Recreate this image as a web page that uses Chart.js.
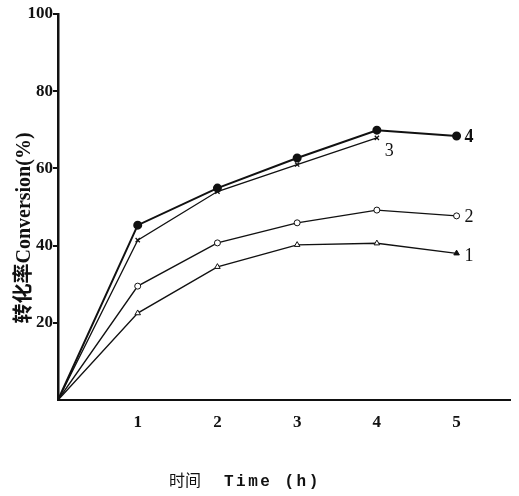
<!DOCTYPE html>
<html>
<head>
<meta charset="utf-8">
<script src="https://cdn.jsdelivr.net/npm/chart.js@4"></script>
<style>
  html, body { margin: 0; padding: 0; background: #fff; }
  #wrap { width: 519px; height: 496px; }
</style>
</head>
<body>
<div id="wrap"><canvas id="myChart"></canvas></div>
<script>
  // data
  const times = [0, 1, 2, 3, 4, 5];
  const curve1 = [0, 22.5, 34.5, 40.2, 40.6, 38];
  const curve2 = [0, 29.5, 40.7, 45.9, 49.2, 47.7];
  const curve3 = [0, 41.4, 54, 61, 67.9];
  const curve4 = [0, 45.3, 54.9, 62.7, 69.9, 68.4];
  const curveNames = ['1', '2', '3', '4'];
  const xTicks = [1, 2, 3, 4, 5];
  const yTicks = [20, 40, 60, 80, 100];

  const toPoints = arr => arr.map((v, i) => ({ x: times[i], y: v }));
  const noFirst = (n, r) => Array.from({ length: n }, (_, i) => i === 0 ? 0 : r);

  const data = {
    datasets: [
      {
        label: curveNames[0],
        data: toPoints(curve1),
        borderColor: '#111', borderWidth: 1.4,
        pointStyle: 'triangle',
        pointRadius: noFirst(curve1.length, 3.2),
        pointBackgroundColor: curve1.map((v, i) => i === curve1.length - 1 ? '#111' : '#fff'),
        pointBorderColor: '#111', pointBorderWidth: 1
      },
      {
        label: curveNames[1],
        data: toPoints(curve2),
        borderColor: '#111', borderWidth: 1.4,
        pointStyle: 'circle',
        pointRadius: noFirst(curve2.length, 3),
        pointBackgroundColor: '#fff',
        pointBorderColor: '#111', pointBorderWidth: 1
      },
      {
        label: curveNames[2],
        data: toPoints(curve3),
        borderColor: '#111', borderWidth: 1.3,
        pointStyle: 'crossRot',
        pointRadius: noFirst(curve3.length, 3),
        pointBorderColor: '#111', pointBorderWidth: 1.3
      },
      {
        label: curveNames[3],
        data: toPoints(curve4),
        borderColor: '#111', borderWidth: 2,
        pointStyle: 'circle',
        pointRadius: noFirst(curve4.length, 3.5),
        pointBackgroundColor: '#111',
        pointBorderColor: '#111'
      }
    ]
  };

  // curve numbers at the end of each line, and the two axis titles
  const annotate = {
    id: 'annotate',
    afterDraw(chart) {
      const ctx = chart.ctx;
      ctx.save();
      ctx.fillStyle = '#111';
      ctx.textBaseline = 'middle';
      ctx.textAlign = 'left';
      const offs = [[8, 3], [8, 1], [8, 13], [8, 1]];
      chart.data.datasets.forEach((ds, i) => {
        const pts = chart.getDatasetMeta(i).data;
        const p = pts[pts.length - 1];
        ctx.font = (i === 3 ? 'bold ' : '') + '18px "Liberation Serif"';
        ctx.fillText(ds.label, p.x + offs[i][0], p.y + offs[i][1]);
      });

      // y title
      ctx.save();
      ctx.translate(25, 228);
      ctx.rotate(-Math.PI / 2);
      ctx.textAlign = 'center';
      ctx.font = 'bold 20px "Liberation Serif", "Noto Sans CJK SC"';
      ctx.fillText('转化率Conversion(%)', 0, 0);
      ctx.restore();

      // x title
      ctx.textAlign = 'left';
      ctx.textBaseline = 'alphabetic';
      ctx.font = '16px "Noto Sans CJK SC"';
      ctx.fillText('时间', 169, 486);
      ctx.font = 'bold 16px "Liberation Mono"';
      ctx.letterSpacing = '2.5px';
      ctx.fillText('Time (h)', 224, 486);
      ctx.restore();
    }
  };

  const config = {
    type: 'line',
    data,
    plugins: [annotate],
    options: {
      responsive: true,
      maintainAspectRatio: false,
      animation: false,
      layout: { padding: { top: 14, right: 9, left: 0, bottom: 0 } },
      plugins: { legend: { display: false }, tooltip: { enabled: false } },
      scales: {
        x: {
          type: 'linear',
          min: 0, max: 5.67,
          afterBuildTicks: s => { s.ticks = xTicks.map(v => ({ value: v })); },
          afterFit: s => { s.height = 96; },
          border: { display: true, color: '#111', width: 2 },
          grid: { display: false },
          ticks: {
            color: '#111',
            padding: 4,
            maxRotation: 0,
            font: { family: '"Liberation Serif"', size: 17, weight: 'bold' }
          }
        },
        y: {
          min: 0, max: 100,
          afterBuildTicks: s => { s.ticks = yTicks.map(v => ({ value: v })); },
          afterFit: s => { s.width = 58; },
          border: { display: true, color: '#111', width: 2.5 },
          grid: { drawOnChartArea: false, drawTicks: true, tickLength: 5, color: '#111', lineWidth: 2 },
          ticks: {
            color: '#111',
            padding: 0,
            font: { family: '"Liberation Serif"', size: 17, weight: 'bold' }
          }
        }
      }
    }
  };

  const myChart = new Chart(document.getElementById('myChart'), config);
</script>
</body>
</html>
